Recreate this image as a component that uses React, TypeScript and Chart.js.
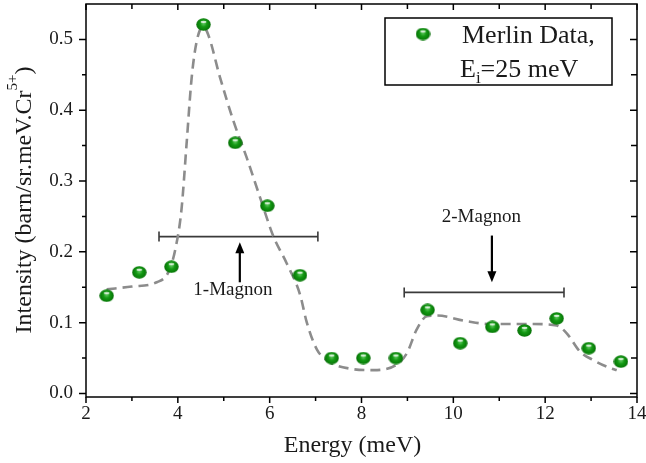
import React, { useEffect, useRef } from "react";
import { Chart, registerables } from "chart.js";

Chart.register(...registerables);

// ---- data ----
const ENERGY = [2.45, 3.16, 3.86, 4.56, 5.25, 5.95, 6.66, 7.35, 8.04, 8.75, 9.44, 10.15, 10.85, 11.55, 12.25, 12.95, 13.65];
const INTENSITY = [0.138, 0.171, 0.179, 0.521, 0.354, 0.265, 0.167, 0.050, 0.050, 0.050, 0.118, 0.071, 0.094, 0.089, 0.106, 0.064, 0.045];

const FIT_X = [2.45, 3.0, 3.54, 3.8, 3.95, 4.08, 4.19, 4.3, 4.41, 4.55, 4.66, 4.92, 5.21, 5.5, 5.79, 6.08, 6.37, 6.66, 6.81, 7.03, 7.32, 7.75, 8.25, 8.77, 8.99, 9.2, 9.42, 9.64, 10.29, 10.8, 11.74, 12.25, 12.47, 12.76, 13.05, 13.41, 13.56];
const FIT_Y = [0.147, 0.151, 0.157, 0.172, 0.205, 0.26, 0.352, 0.445, 0.497, 0.518, 0.507, 0.446, 0.385, 0.333, 0.277, 0.222, 0.184, 0.14, 0.1, 0.062, 0.044, 0.035, 0.033, 0.041, 0.057, 0.09, 0.109, 0.11, 0.102, 0.098, 0.098, 0.096, 0.085, 0.059, 0.047, 0.036, 0.033];

const X_TICKS = [2, 4, 6, 8, 10, 12, 14];
const X_MINOR = [3, 5, 7, 9, 11, 13];
const Y_TICKS = [0, 0.1, 0.2, 0.3, 0.4, 0.5];
const Y_MINOR = [0.05, 0.15, 0.25, 0.35, 0.45];

// annotations in data coordinates
const BAR_1 = { x0: 3.59, x1: 7.05, y: 0.2215 };
const BAR_2 = { x0: 8.93, x1: 12.41, y: 0.1427 };
const ARROW_1 = { x: 5.35, yFrom: 0.157, yTo: 0.2135 };
const ARROW_2 = { x: 10.84, yFrom: 0.223, yTo: 0.157 };
const LABEL_1 = { text: "1-Magnon", x: 5.2, y: 0.1455 };
const LABEL_2 = { text: "2-Magnon", x: 10.61, y: 0.2497 };

const FONT = "'Liberation Serif', 'Times New Roman', serif";
const TEXT = "#1a1a1a";

function makeSphere(w: number, h: number) {
  const c = document.createElement("canvas");
  c.width = w;
  c.height = h;
  const g = c.getContext("2d")!;
  const grad = g.createRadialGradient(w * 0.5, h * 0.4, 0.5, w * 0.5, h * 0.5, w * 0.55);
  grad.addColorStop(0, "#5cc45c");
  grad.addColorStop(0.35, "#139a13");
  grad.addColorStop(0.8, "#077607");
  grad.addColorStop(1, "#045004");
  g.fillStyle = grad;
  g.beginPath();
  g.ellipse(w / 2, h / 2, w / 2 - 0.3, h / 2 - 0.3, 0, 0, Math.PI * 2);
  g.fill();
  g.fillStyle = "rgba(255,255,255,0.8)";
  g.beginPath();
  g.ellipse(w * 0.5, h * 0.3, w * 0.2, h * 0.08, 0, 0, Math.PI * 2);
  g.fill();
  return c;
}

function zeroPad(s: any) {
  s.paddingLeft = 0;
  s.paddingRight = 0;
  s.paddingTop = 0;
  s.paddingBottom = 0;
}

const overlayPlugin = {
  id: "overlay",
  beforeDatasetsDraw(chart: any) {
    const { ctx, chartArea: a, scales } = chart;
    const x = scales.x;
    const y = scales.y;
    ctx.save();
    // frame
    ctx.strokeStyle = "#000";
    ctx.lineWidth = 1.5;
    ctx.strokeRect(a.left, a.top, a.right - a.left, a.bottom - a.top);
    ctx.beginPath();
    for (const v of X_TICKS) {
      const px = x.getPixelForValue(v);
      ctx.moveTo(px, a.bottom);
      ctx.lineTo(px, a.bottom + 6);
      ctx.moveTo(px, a.top);
      ctx.lineTo(px, a.top + 6);
    }
    for (const v of X_MINOR) {
      const px = x.getPixelForValue(v);
      ctx.moveTo(px, a.bottom);
      ctx.lineTo(px, a.bottom + 4);
      ctx.moveTo(px, a.top);
      ctx.lineTo(px, a.top + 5);
    }
    for (const v of Y_TICKS) {
      const py = y.getPixelForValue(v);
      ctx.moveTo(a.left - 7, py);
      ctx.lineTo(a.left, py);
      ctx.moveTo(a.right, py);
      ctx.lineTo(a.right - 7, py);
    }
    for (const v of Y_MINOR) {
      const py = y.getPixelForValue(v);
      ctx.moveTo(a.left - 4, py);
      ctx.lineTo(a.left, py);
      ctx.moveTo(a.right, py);
      ctx.lineTo(a.right - 6, py);
    }
    ctx.stroke();

    // magnon bars
    ctx.strokeStyle = "#3a3a3a";
    ctx.lineWidth = 1.6;
    for (const b of [BAR_1, BAR_2]) {
      const x0 = x.getPixelForValue(b.x0);
      const x1 = x.getPixelForValue(b.x1);
      const py = y.getPixelForValue(b.y);
      ctx.beginPath();
      ctx.moveTo(x0, py);
      ctx.lineTo(x1, py);
      ctx.moveTo(x0, py - 5);
      ctx.lineTo(x0, py + 5);
      ctx.moveTo(x1, py - 5);
      ctx.lineTo(x1, py + 5);
      ctx.stroke();
    }
    // arrows
    ctx.strokeStyle = "#000";
    ctx.fillStyle = "#000";
    ctx.lineWidth = 2.2;
    for (const ar of [ARROW_1, ARROW_2]) {
      const px = x.getPixelForValue(ar.x);
      const p0 = y.getPixelForValue(ar.yFrom);
      const p1 = y.getPixelForValue(ar.yTo);
      const dir = p1 > p0 ? 1 : -1;
      ctx.beginPath();
      ctx.moveTo(px, p0);
      ctx.lineTo(px, p1 - dir * 9);
      ctx.stroke();
      ctx.beginPath();
      ctx.moveTo(px, p1);
      ctx.lineTo(px - 4.5, p1 - dir * 11);
      ctx.lineTo(px + 4.5, p1 - dir * 11);
      ctx.closePath();
      ctx.fill();
    }
    // labels
    ctx.fillStyle = TEXT;
    ctx.font = `19px ${FONT}`;
    ctx.textAlign = "center";
    ctx.textBaseline = "middle";
    for (const l of [LABEL_1, LABEL_2]) {
      ctx.fillText(l.text, x.getPixelForValue(l.x), y.getPixelForValue(l.y));
    }
    ctx.restore();
  },
  afterDraw(chart: any) {
    const { ctx, chartArea: a } = chart;
    ctx.save();
    ctx.fillStyle = TEXT;
    // x title
    ctx.font = `24px ${FONT}`;
    ctx.textAlign = "center";
    ctx.textBaseline = "alphabetic";
    ctx.fillText("Energy (meV)", (a.left + a.right) / 2 - 9, 452);

    // y title with superscript
    ctx.translate(31, 200);
    ctx.rotate(-Math.PI / 2);
    const main = "Intensity (barn/sr.meV.Cr";
    const sup = "5+";
    const close = ")";
    ctx.font = `24px ${FONT}`;
    const wMain = ctx.measureText(main).width;
    const wClose = ctx.measureText(close).width;
    ctx.font = `15px ${FONT}`;
    const wSup = ctx.measureText(sup).width;
    const total = wMain + wSup + wClose;
    let cx = -total / 2;
    ctx.textAlign = "left";
    ctx.font = `24px ${FONT}`;
    ctx.fillText(main, cx, 0);
    cx += wMain;
    ctx.font = `15px ${FONT}`;
    ctx.fillText(sup, cx, -14);
    cx += wSup;
    ctx.font = `24px ${FONT}`;
    ctx.fillText(close, cx, 0);
    ctx.restore();

    // legend
    ctx.save();
    ctx.strokeStyle = "#000";
    ctx.lineWidth = 1.5;
    ctx.fillStyle = "#fff";
    ctx.fillRect(385, 18, 227, 67);
    ctx.strokeRect(385, 18, 227, 67);
    const s = chart.$sphere;
    if (s) ctx.drawImage(s, 423 - s.width / 2, 34 - s.height / 2);
    ctx.fillStyle = TEXT;
    ctx.textAlign = "left";
    ctx.textBaseline = "alphabetic";
    ctx.font = `26px ${FONT}`;
    ctx.fillText("Merlin Data,", 462, 43);
    let lx = 460;
    ctx.fillText("E", lx, 77);
    lx += ctx.measureText("E").width;
    ctx.font = `17px ${FONT}`;
    ctx.fillText("i", lx, 83);
    lx += ctx.measureText("i").width;
    ctx.font = `26px ${FONT}`;
    ctx.fillText("=25 meV", lx, 77);
    ctx.restore();
  },
};

export default function App() {
  const ref = useRef<HTMLCanvasElement | null>(null);
  useEffect(() => {
    if (!ref.current) return;
    const sphere = makeSphere(15, 13);
    const chart: any = new Chart(ref.current, {
      type: "scatter",
      data: {
        datasets: [
          {
            label: "Merlin Data",
            data: ENERGY.map((e, i) => ({ x: e, y: INTENSITY[i] })),
            pointStyle: sphere as any,
            pointRadius: 0.5,
            pointBorderWidth: 0,
            showLine: false,
            order: 0,
          },
          {
            type: "line",
            label: "fit",
            data: FIT_X.map((e, i) => ({ x: e, y: FIT_Y[i] })),
            borderColor: "#8c8c8c",
            borderWidth: 2.6,
            borderDash: [10, 6],
            pointRadius: 0,
            pointBorderWidth: 0,
            fill: false,
            cubicInterpolationMode: "monotone",
            order: 1,
          } as any,
        ],
      },
      options: {
        animation: false,
        responsive: false,
        events: [],
        layout: { padding: { left: 0, top: 3, right: 9, bottom: 0 } },
        plugins: { legend: { display: false }, tooltip: { enabled: false } },
        scales: {
          x: {
            type: "linear",
            position: "bottom",
            min: 2,
            max: 14,
            grid: { display: false, drawTicks: false },
            border: { display: false },
            ticks: {
              font: { family: FONT, size: 19 },
              color: TEXT,
              padding: 6,
              maxRotation: 0,
              callback: (v: any) => String(v),
            },
            afterBuildTicks: (s: any) => {
              s.ticks = X_TICKS.map((v) => ({ value: v }));
            },
            afterFit: (s: any) => {
              s.height = 66;
              zeroPad(s);
            },
          },
          y: {
            type: "linear",
            position: "left",
            min: -0.005,
            max: 0.55,
            grid: { display: false, drawTicks: false },
            border: { display: false },
            ticks: {
              font: { family: FONT, size: 19 },
              color: TEXT,
              padding: 13,
              callback: (v: any) => Number(v).toFixed(1),
            },
            afterBuildTicks: (s: any) => {
              s.ticks = Y_TICKS.map((v) => ({ value: v }));
            },
            afterFit: (s: any) => {
              s.width = 86;
              zeroPad(s);
            },
          },
        },
      },
      plugins: [overlayPlugin],
    });
    chart.$sphere = sphere;
    chart.draw();
    return () => chart.destroy();
  }, []);
  return (
    <div style={{ position: "absolute", left: 0, top: 0, width: 646, height: 463, background: "#fff" }}>
      <canvas ref={ref} width={646} height={463} style={{ display: "block" }} />
    </div>
  );
}
